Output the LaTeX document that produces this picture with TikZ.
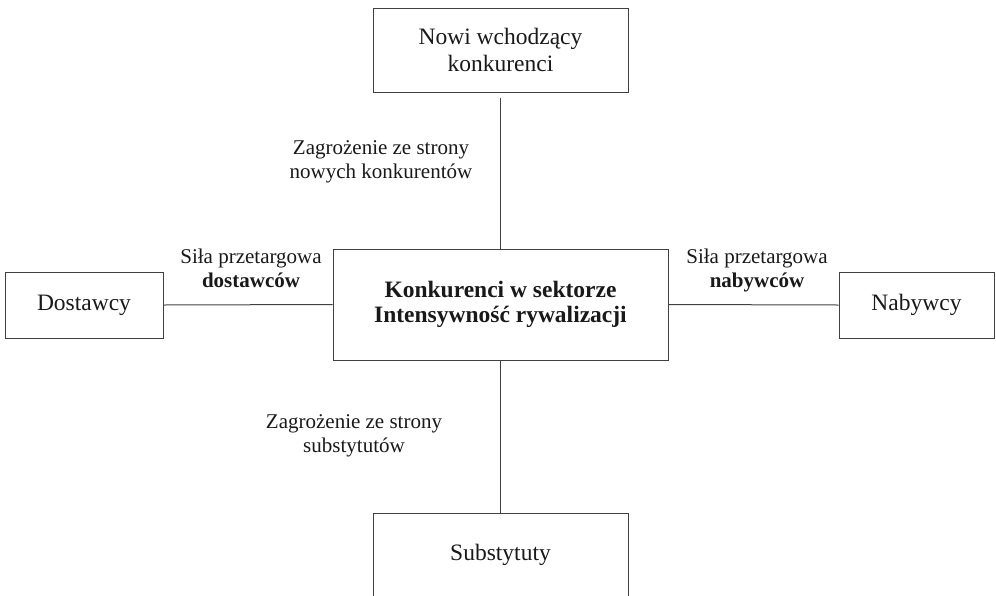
\documentclass[tikz,border=0pt]{standalone}
\usepackage{fontspec}
\setmainfont{Liberation Serif}
\begin{document}
\begin{tikzpicture}[x=1pt,y=-1pt,
  box/.style={draw=black!75, line width=1pt, inner sep=0pt, align=center,
    font=\fontsize{23.5}{27}\selectfont, text=black!90},
  lbl/.style={inner sep=0pt, align=center, font=\fontsize{21}{24}\selectfont, text=black!90},
  conn/.style={draw=black!75, line width=1pt}]
\useasboundingbox (0,0) rectangle (996,595);
\clip (0,0) rectangle (996,595);
% boxes
\node[box, minimum width=255, minimum height=84] (top) at (500.5,50) {Nowi wchodzący\\konkurenci};
\node[box, minimum width=335, minimum height=111, font=\bfseries\fontsize{23.5}{25}\selectfont] (mid) at (500.5,304.5) {Konkurenci w sektorze\\Intensywność rywalizacji};
\node[box, minimum width=158, minimum height=66] (dost) at (84,305) {Dostawcy};
\node[box, minimum width=155, minimum height=66] (nab) at (916.5,305) {Nabywcy};
\node[box, minimum width=255, minimum height=120] (sub) at (500.5,573) {};
\node[lbl, font=\fontsize{23.5}{27}\selectfont] (subt) at (500.5,554.5) {Substytuty};
% connectors
\draw[conn, shorten <=5pt] (top.south) -- (mid.north);
\draw[conn] (mid.south) -- (sub.north);
\draw[conn] (dost.east) -- (mid.west);
\draw[conn] (mid.east) -- (nab.west);
% labels
\node[lbl] (l1) at (381,162) {Zagrożenie ze strony\\nowych konkurentów};
\node[lbl] (l2) at (251,268) {Siła przetargowa\\\textbf{dostawców}};
\node[lbl] (l3) at (757,270) {Siła przetargowa\\\textbf{nabywców}};
\node[lbl] (l4) at (354,436) {Zagrożenie ze strony\\substytutów};
\end{tikzpicture}
\end{document}
